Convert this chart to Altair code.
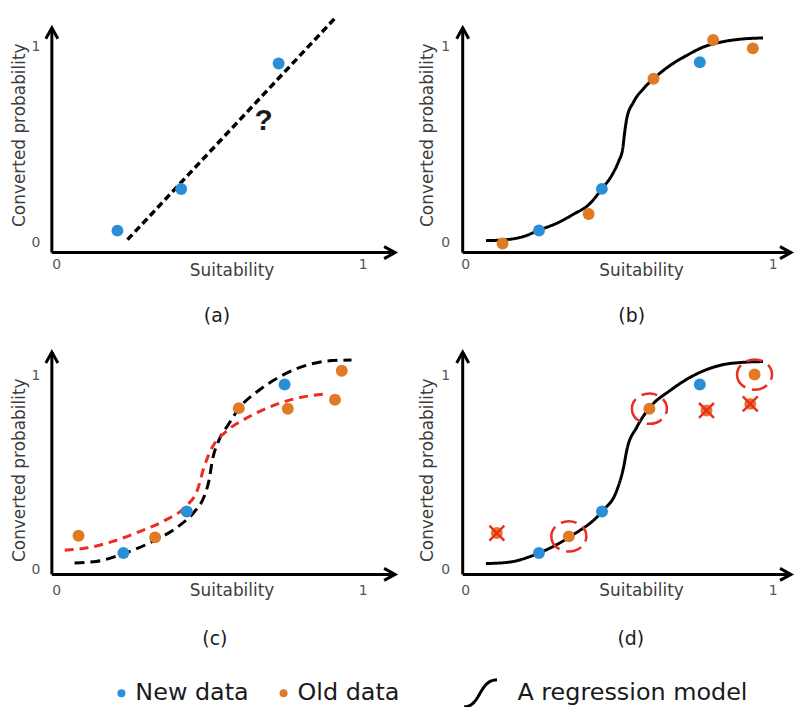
import altair as alt
import pandas as pd

# ---------------- data ----------------
# (a) only new data + a guessed linear fit
a_new_x = [0.198, 0.406, 0.724]
a_new_y = [0.061, 0.273, 0.914]
a_fit_x = [0.231, 0.912]
a_fit_y = [0.015, 1.152]

# (b) new + old data and a regression model
b_new_x = [0.2385, 0.443, 0.7615]
b_new_y = [0.062, 0.274, 0.920]
b_old_x = [0.120, 0.400, 0.611, 0.805, 0.934]
b_old_y = [-0.005, 0.146, 0.836, 1.034, 0.991]
b_curve_x = [0.066, 0.125, 0.190, 0.238, 0.298, 0.352, 0.400, 0.443, 0.476, 0.497, 0.511,
             0.516, 0.524, 0.546, 0.578, 0.611, 0.665, 0.718, 0.772, 0.837, 0.902, 0.967]
b_curve_y = [0.010, 0.014, 0.032, 0.063, 0.100, 0.146, 0.193, 0.274, 0.345, 0.413, 0.481,
             0.548, 0.633, 0.717, 0.785, 0.836, 0.904, 0.954, 0.997, 1.025, 1.039, 1.044]

# (c) two candidate models
c_new_x = [0.2175, 0.4242, 0.7435]
c_new_y = [0.087, 0.301, 0.956]
c_old_x = [0.071, 0.321, 0.594, 0.754, 0.908, 0.930]
c_old_y = [0.176, 0.168, 0.834, 0.831, 0.877, 1.027]
c_black_x = [0.058, 0.129, 0.218, 0.313, 0.399, 0.454, 0.481, 0.497, 0.508, 0.529, 0.562,
             0.594, 0.659, 0.735, 0.821, 0.897, 0.962]
c_black_y = [0.036, 0.044, 0.084, 0.147, 0.227, 0.309, 0.378, 0.463, 0.566, 0.668, 0.754,
             0.831, 0.925, 1.002, 1.058, 1.079, 1.082]
c_red_x = [0.026, 0.096, 0.183, 0.270, 0.356, 0.421, 0.459, 0.481, 0.508, 0.551, 0.616,
           0.681, 0.757, 0.832, 0.886]
c_red_y = [0.101, 0.113, 0.147, 0.198, 0.258, 0.327, 0.412, 0.532, 0.634, 0.711, 0.780,
           0.831, 0.874, 0.899, 0.908]

# (d) selecting old data
d_new_x = [0.2384, 0.4434, 0.7616]
d_new_y = [0.087, 0.301, 0.956]
d_old_x = [0.1014, 0.3355, 0.5976, 0.7832, 0.9256, 0.9396]
d_old_y = [0.190, 0.173, 0.831, 0.822, 0.856, 1.007]
d_old_status = ["removed", "kept", "kept", "removed", "removed", "kept"]
d_curve_x = [0.066, 0.136, 0.238, 0.341, 0.443, 0.492, 0.514, 0.524, 0.557, 0.600, 0.665,
             0.751, 0.837, 0.902, 0.967]
d_curve_y = [0.033, 0.039, 0.087, 0.173, 0.301, 0.412, 0.532, 0.617, 0.737, 0.839, 0.925,
             1.010, 1.058, 1.070, 1.074]

tick_labels = ["0", "1"]
tick_values = [0, 1]
series = ["New data", "Old data"]
model_name = "A regression model"
x_title = "Suitability"
y_title = "Converted probability"
panel_labels = ["(a)", "(b)", "(c)", "(d)"]

# ---------------- styles / layout ----------------
BLUE = "#2b8fd6"
ORANGE = "#e07a24"
RED = "#ec2c22"
FONT = "DejaVu Sans"
ARROW = "M-0.55,1L0,0L0.55,1"
XPATH = "M-1,-1L1,1M1,-1L-1,1"
ELLIPSE = "M-1.1,0A1.1,0.95 0 1,0 1.1,0A1.1,0.95 0 1,0 -1.1,0"
SPATH = "M-1,0.82C0,0.82 -0.1,-0.82 1,-0.82"

COLS = [
    dict(w=397, xdom=[-0.15909, 1.12987], ax=-0.016, tip=1.104, ytick=-0.068, ytitle=-0.120),
    dict(w=392, xdom=[-0.20388, 1.06472], ax=-0.0097, tip=1.058, ytick=-0.0647, ytitle=-0.123),
]
ROWS = [
    dict(h=320, ydom=[-0.45685, 1.16751], ay=-0.051, tip=1.096, xtick=-0.112, xtitle=-0.145,
         ytitle=0.548, label=-0.376),
    dict(h=322, ydom=[-0.42564, 1.22564], ay=-0.023, tip=1.123, xtick=-0.108, xtitle=-0.111,
         ytitle=0.514, label=-0.354),
]
LABEL_X = [0.523, 0.540, 0.516, 0.537]

color_enc = alt.Color(
    "type:N",
    scale=alt.Scale(domain=series, range=[BLUE, ORANGE]),
    legend=alt.Legend(
        title=None, orient="none", legendX=102, legendY=671, direction="horizontal",
        symbolType="circle", symbolSize=64, symbolStrokeWidth=0,
        labelFont=FONT, labelFontSize=24, labelColor="#1a1a1a", labelOffset=2,
        labelLimit=0, columnPadding=22, padding=0,
    ),
)
dash_enc = alt.StrokeDash(
    "model:N",
    scale=alt.Scale(domain=[model_name], range=[[1, 0]]),
    legend=alt.Legend(
        title=None, orient="none", legendX=457, legendY=665, direction="horizontal",
        symbolType=SPATH, symbolSize=1089, symbolStrokeColor="black", symbolStrokeWidth=3,
        symbolFillColor="transparent", labelLimit=0,
        labelFont=FONT, labelFontSize=24, labelColor="#1a1a1a", labelOffset=19, padding=0,
    ),
)


def points_df(nx, ny, ox=None, oy=None):
    rows = [dict(x=a, y=b, type="New data") for a, b in zip(nx, ny)]
    if ox is not None:
        rows += [dict(x=a, y=b, type="Old data") for a, b in zip(ox, oy)]
    return pd.DataFrame(rows)


def curve_df(xs, ys):
    return pd.DataFrame({"x": xs, "y": ys, "i": range(len(xs)), "model": model_name})


def panel(ci, ri, idx, body):
    col, row = COLS[ci], ROWS[ri]
    xs = alt.Scale(domain=col["xdom"], nice=False, zero=False)
    ys = alt.Scale(domain=row["ydom"], nice=False, zero=False)
    X = alt.X("x:Q", scale=xs, axis=None)
    Y = alt.Y("y:Q", scale=ys, axis=None)

    axes = alt.Chart(pd.DataFrame({
        "x": [col["ax"], col["ax"]], "y": [row["ay"], row["ay"]],
        "x2": [col["ax"], col["tip"]], "y2": [row["tip"], row["ay"]],
    })).mark_rule(strokeWidth=3, color="black").encode(x=X, y=Y, x2="x2:Q", y2="y2:Q")

    heads = alt.Chart(pd.DataFrame({
        "x": [col["ax"], col["tip"]], "y": [row["tip"], row["ay"]], "a": [0, 90],
    })).mark_point(shape=ARROW, filled=False, size=484, strokeWidth=3, color="black",
                   opacity=1).encode(x=X, y=Y, angle=alt.Angle("a:Q", scale=None))

    xticks = alt.Chart(pd.DataFrame({
        "x": tick_values, "y": [row["xtick"]] * 2, "t": tick_labels,
    })).mark_text(font=FONT, fontSize=14, color="#555555").encode(x=X, y=Y, text="t:N")
    yticks = alt.Chart(pd.DataFrame({
        "x": [col["ytick"]] * 2, "y": tick_values, "t": tick_labels,
    })).mark_text(font=FONT, fontSize=14, color="#555555").encode(x=X, y=Y, text="t:N")

    xt = alt.Chart(pd.DataFrame({"x": [0.572], "y": [row["xtitle"]], "t": [x_title]})).mark_text(
        font=FONT, fontSize=17, color="#3d3d3d").encode(x=X, y=Y, text="t:N")
    yt = alt.Chart(pd.DataFrame({"x": [col["ytitle"]], "y": [row["ytitle"]], "t": [y_title]})).mark_text(
        font=FONT, fontSize=17, color="#3d3d3d", angle=270).encode(x=X, y=Y, text="t:N")
    lab = alt.Chart(pd.DataFrame({"x": [LABEL_X[idx]], "y": [row["label"]], "t": [panel_labels[idx]]})).mark_text(
        font=FONT, fontSize=19, color="#1a1a1a").encode(x=X, y=Y, text="t:N")

    layers = [axes, heads, xticks, yticks, xt, yt, lab] + body(X, Y)
    return alt.layer(*layers).properties(width=col["w"], height=row["h"])


def body_a(X, Y):
    fit = alt.Chart(pd.DataFrame({"x": a_fit_x, "y": a_fit_y})).mark_line(
        color="black", strokeWidth=3.5, strokeDash=[7, 4]).encode(x=X, y=Y)
    pts = alt.Chart(points_df(a_new_x, a_new_y)).mark_circle(size=144, opacity=1).encode(
        x=X, y=Y, color=color_enc)
    q = alt.Chart(pd.DataFrame({"x": [0.675], "y": [0.62], "t": ["?"]})).mark_text(
        font="Liberation Sans", fontSize=30, fontWeight="bold", color="#1a1a1a").encode(x=X, y=Y, text="t:N")
    return [fit, pts, q]


def body_b(X, Y):
    cur = alt.Chart(curve_df(b_curve_x, b_curve_y)).mark_line(
        color="black", strokeWidth=3, interpolate="monotone").encode(
        x=X, y=Y, order="i:Q", strokeDash=dash_enc)
    pts = alt.Chart(points_df(b_new_x, b_new_y, b_old_x, b_old_y)).mark_circle(size=144, opacity=1).encode(
        x=X, y=Y, color=color_enc)
    return [cur, pts]


def body_c(X, Y):
    blk = alt.Chart(pd.DataFrame({"x": c_black_x, "y": c_black_y, "i": range(len(c_black_x))})).mark_line(
        color="black", strokeWidth=3, strokeDash=[10, 6], interpolate="monotone").encode(x=X, y=Y, order="i:Q")
    red = alt.Chart(pd.DataFrame({"x": c_red_x, "y": c_red_y, "i": range(len(c_red_x))})).mark_line(
        color=RED, strokeWidth=3, strokeDash=[9, 6], interpolate="monotone").encode(x=X, y=Y, order="i:Q")
    pts = alt.Chart(points_df(c_new_x, c_new_y, c_old_x, c_old_y)).mark_circle(size=144, opacity=1).encode(
        x=X, y=Y, color=color_enc)
    return [blk, red, pts]


def body_d(X, Y):
    cur = alt.Chart(curve_df(d_curve_x, d_curve_y)).mark_line(
        color="black", strokeWidth=3, interpolate="monotone").encode(
        x=X, y=Y, order="i:Q", strokeDash=dash_enc)
    pts = alt.Chart(points_df(d_new_x, d_new_y, d_old_x, d_old_y)).mark_circle(size=144, opacity=1).encode(
        x=X, y=Y, color=color_enc)
    old = pd.DataFrame({"x": d_old_x, "y": d_old_y, "s": d_old_status})
    kept = alt.Chart(old).transform_filter("datum.s == 'kept'").mark_point(
        shape=ELLIPSE, filled=False, size=1024, strokeWidth=2.5, strokeDash=[16, 7],
        color=RED, opacity=1).encode(x=X, y=Y)
    removed = alt.Chart(old).transform_filter("datum.s == 'removed'").mark_point(
        shape=XPATH, filled=False, size=225, strokeWidth=2.5, color=RED, opacity=1).encode(x=X, y=Y)
    return [cur, pts, kept, removed]


pa = panel(0, 0, 0, body_a)
pb = panel(1, 0, 1, body_b)
pc = panel(0, 1, 2, body_c)
pd_ = panel(1, 1, 3, body_d)

row1 = alt.hconcat(pa, pb, spacing=0).resolve_scale(
    x="independent", y="independent", color="shared", strokeDash="shared")
row2 = alt.hconcat(pc, pd_, spacing=0).resolve_scale(
    x="independent", y="independent", color="shared", strokeDash="shared")

chart = alt.vconcat(row1, row2, spacing=0, padding=0).resolve_scale(
    x="independent", y="independent", color="shared", strokeDash="shared"
).configure_view(stroke=None)

chart.save("out.html", embed_options={"renderer": "svg", "actions": False})
